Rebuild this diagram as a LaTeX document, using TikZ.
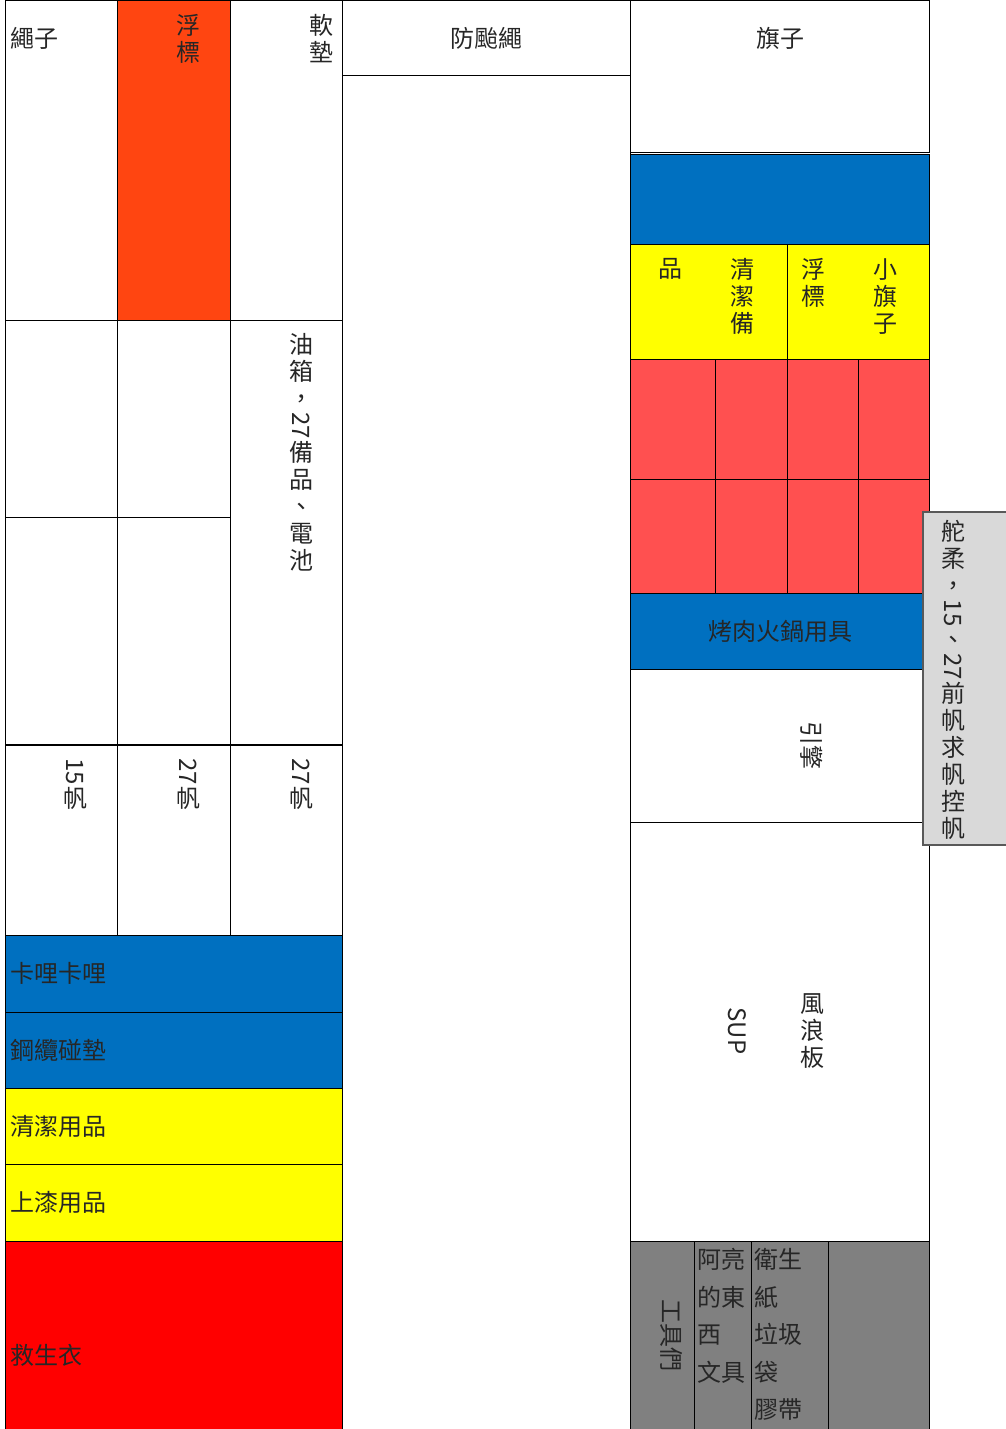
\documentclass[tikz,border=0pt]{standalone}
\usepackage{fontspec}
\setmainfont{Noto Sans CJK TC}
\usepackage{graphicx}
\usetikzlibrary{positioning}
\definecolor{ink}{HTML}{262626}
\definecolor{blu}{HTML}{0070C0}
\definecolor{ylw}{HTML}{FFFF00}
\definecolor{redlt}{HTML}{FF5050}
\definecolor{redfull}{HTML}{FF0000}
\definecolor{orng}{HTML}{FF4511}
\definecolor{gry}{HTML}{808080}
\definecolor{tabgry}{HTML}{D9D9D9}
\definecolor{tabline}{HTML}{595959}
\tikzset{
  cell/.style={draw=black, line width=0.5pt},
  lbl/.style={inner sep=0pt, font=\fontsize{12}{13.5}\selectfont, text=ink},
  vlbl/.style={lbl, align=center, anchor=north},
  hlbl/.style={lbl, anchor=west},
  wlbl/.style={inner sep=0pt, font=\fontsize{12}{18.75}\selectfont, text=ink,
               align=left, anchor=north west},
}
\newcommand{\sidew}[1]{\rotatebox[origin=c]{-90}{#1}}

\begin{document}
\begin{tikzpicture}[x=0.5pt, y=-0.5pt]
  \useasboundingbox (0,0) rectangle (1006,1429);
  % left block
  \draw[cell] (5,1) rectangle (117,320);
  \draw[cell, fill=orng] (117,1) rectangle (230,320);
  \draw[cell] (230,1) rectangle (342,320);
  \draw[cell] (5,320) rectangle (117,517);
  \draw[cell] (117,320) rectangle (230,517);
  \draw[cell] (5,517) rectangle (117,745);
  \draw[cell] (117,517) rectangle (230,745);
  \draw[cell] (230,320) rectangle (342,745);
  \draw[cell] (5,745) rectangle (117,935);
  \draw[cell] (117,745) rectangle (230,935);
  \draw[cell] (230,745) rectangle (342,935);
  \draw[line width=1pt] (5,745) -- (342,745);
  \draw[cell, fill=blu] (5,935) rectangle (342,1012);
  \draw[cell, fill=blu] (5,1012) rectangle (342,1088);
  \draw[cell, fill=ylw] (5,1088) rectangle (342,1164);
  \draw[cell, fill=ylw] (5,1164) rectangle (342,1241);
  \draw[cell, fill=redfull] (5,1241) rectangle (342,1430);
  % middle
  \draw[cell] (342,1) rectangle (630,76);
  \draw[cell] (342,76) rectangle (630,1430);
  % right block
  \draw[cell] (630,1) rectangle (929,152);
  \draw[cell, fill=blu] (630,154) rectangle (929,244);
  \draw[cell, fill=ylw] (630,244) rectangle (787,359);
  \draw[cell, fill=ylw] (787,244) rectangle (929,359);
  \draw[cell, fill=redlt] (630,359) rectangle (929,593);
  \draw[cell] (630,479) -- (929,479);
  \draw[cell] (715,359) -- (715,593);
  \draw[cell] (787,359) -- (787,593);
  \draw[cell] (858,359) -- (858,593);
  \draw[cell, fill=blu] (630,593) rectangle (929,669);
  \draw[cell] (630,669) rectangle (929,822);
  \draw[cell] (630,822) rectangle (929,1241);
  \draw[cell, fill=gry] (630,1241) rectangle (929,1430);
  \draw[cell] (694,1241) -- (694,1430);
  \draw[cell] (751,1241) -- (751,1430);
  \draw[cell] (828,1241) -- (828,1430);
  % side tab
  \draw[draw=tabline, line width=0.75pt, fill=tabgry] (923,512) rectangle (1007,845);

  % labels, left
  \node[hlbl] (rope) at (10,38) {繩子};
  \node[vlbl] (buoy) at (188,14) {浮\\標};
  \node[vlbl] (pad) at (321,14) {軟\\墊};
  \node[vlbl] (fuel) at (301,333) {油\\箱\\，\\\sidew{27}\\備\\品\\、\\電\\池};
  \node[vlbl] (sail15) at (75,758) {\sidew{15}\\帆};
  \node[vlbl] (sail27a) at (188,758) {\sidew{27}\\帆};
  \node[vlbl] (sail27b) at (301,758) {\sidew{27}\\帆};
  \node[hlbl] (curry) at (10,973) {卡哩卡哩};
  \node[hlbl] (fender) at (10,1050) {鋼纜碰墊};
  \node[hlbl] (clean) at (10,1126) {清潔用品};
  \node[hlbl] (paint) at (10,1202) {上漆用品};
  \node[hlbl] (vest) at (10,1355) {救生衣};
  % labels, middle
  \node[lbl] (storm) at (486,38) {防颱繩};
  % labels, right
  \node[lbl] (flags) at (780,38) {旗子};
  \node[vlbl] (smallflag) at (885,258) {小\\旗\\子};
  \node[vlbl] (buoy2) at (813,258) {浮\\標};
  \node[vlbl] (spare1) at (742,258) {清\\潔\\備};
  \node[vlbl] (spare2) at (670,258) {品};
  \node[lbl] (bbq) at (780,631) {烤肉火鍋用具};
  \node[lbl, rotate=-90] (engine) at (812,745) {引擎};
  \node[lbl, rotate=-90] (sup) at (737,1031) {SUP};
  \node[lbl, align=center] (wind) at (812,1031) {風\\浪\\板};
  \node[lbl, rotate=-90] (tools) at (672,1335) {工具們};
  \node[wlbl] (liang) at (697,1248) {阿亮\\的東\\西\\文具};
  \node[wlbl] (tissue) at (754,1248) {衛生\\紙\\垃圾\\袋\\膠帶};
  \node[vlbl] (tiller) at (953,520) {舵\\柔\\，\\\sidew{15}\\、\\\sidew{27}\\前\\帆\\求\\帆\\控\\帆};
\end{tikzpicture}
\end{document}
